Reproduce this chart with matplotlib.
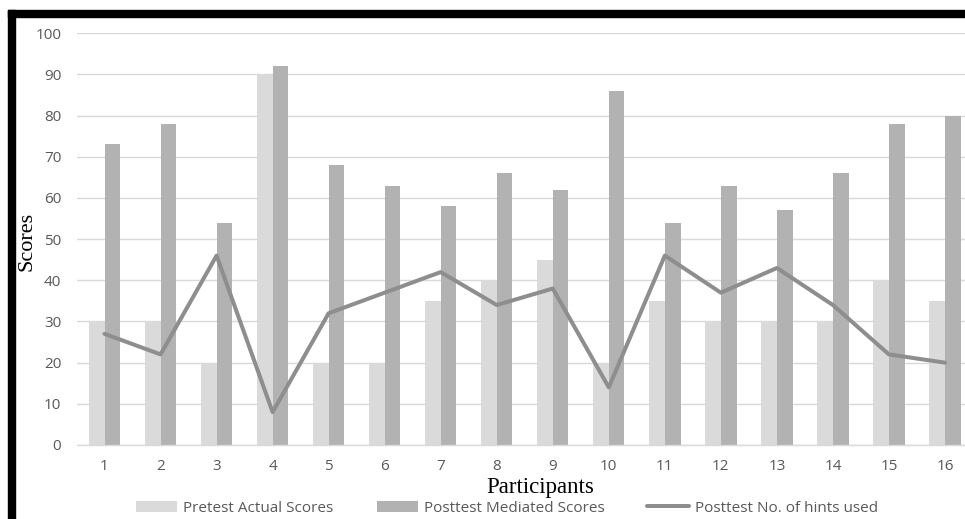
import numpy as np
import matplotlib
matplotlib.use("Agg")
import matplotlib.pyplot as plt
from matplotlib.patches import Rectangle

participants = list(range(1, 17))
pretest = [30, 30, 20, 90, 20, 20, 35, 40, 45, 20, 35, 30, 30, 30, 40, 35]
posttest = [73, 78, 54, 92, 68, 63, 58, 66, 62, 86, 54, 63, 57, 66, 78, 80]
hints = [27, 22, 46, 8, 32, 37, 42, 34, 38, 14, 46, 37, 43, 34, 22, 20]

tick_font = "Open Sans"
tick_color = "#595959"

fig = plt.figure(figsize=(9.65, 5.19), dpi=100)
ax = fig.add_axes([76.5 / 965, 1 - 445 / 519, 896.5 / 965, (445 - 33.3) / 519])

x = np.array(participants)
w = 0.28
b1 = ax.bar(x - w / 2, pretest, w, color="#DADADA", label="Pretest Actual Scores", zorder=2)
b2 = ax.bar(x + w / 2, posttest, w, color="#B2B2B2", label="Posttest Mediated Scores", zorder=2)
l1, = ax.plot(x, hints, color="#8E8E8E", lw=2.9, solid_joinstyle="round",
              solid_capstyle="round", label="Posttest No. of hints used", zorder=3)

ax.set_xlim(0.5, 16.5)
ax.set_ylim(0, 100)
ax.set_yticks(range(0, 101, 10))
ax.set_xticks(participants)
ax.yaxis.grid(True, color="#D9D9D9", lw=1, zorder=0)
ax.set_axisbelow(True)
for s in ["top", "right", "left"]:
    ax.spines[s].set_visible(False)
ax.spines["bottom"].set_color("#D9D9D9")
ax.spines["bottom"].set_linewidth(1)
ax.tick_params(length=0, labelsize=11, labelcolor=tick_color)
ax.tick_params(axis="y", pad=11)
ax.tick_params(axis="x", pad=10)
for lab in ax.get_xticklabels() + ax.get_yticklabels():
    lab.set_fontfamily(tick_font)

fig.text(27 / 965, 1 - 241 / 519, "Scores", rotation=90, ha="center", va="center",
         fontsize=16, family="Liberation Serif", color="black")
fig.text(540 / 965, 1 - 488 / 519, "Participants", ha="center", va="center",
         fontsize=16.5, family="Liberation Serif", color="black")

leg = fig.legend([b1, b2, l1], [b1.get_label(), b2.get_label(), l1.get_label()],
                 loc="center", bbox_to_anchor=(507 / 965, 1 - 508 / 519), ncol=3,
                 frameon=False, handlelength=2.7, handleheight=0.75,
                 handletextpad=0.4, columnspacing=2.8,
                 prop={"family": tick_font, "size": 11})
for t in leg.get_texts():
    t.set_color(tick_color)

# black frame on top and left
fig.patches.append(Rectangle((8 / 965, 1 - 17 / 519), 1, 7 / 519,
                             transform=fig.transFigure, color="black"))
fig.patches.append(Rectangle((8 / 965, 0), 7 / 965, 1 - 10 / 519,
                             transform=fig.transFigure, color="black"))

fig.savefig("out.png", dpi=100)
